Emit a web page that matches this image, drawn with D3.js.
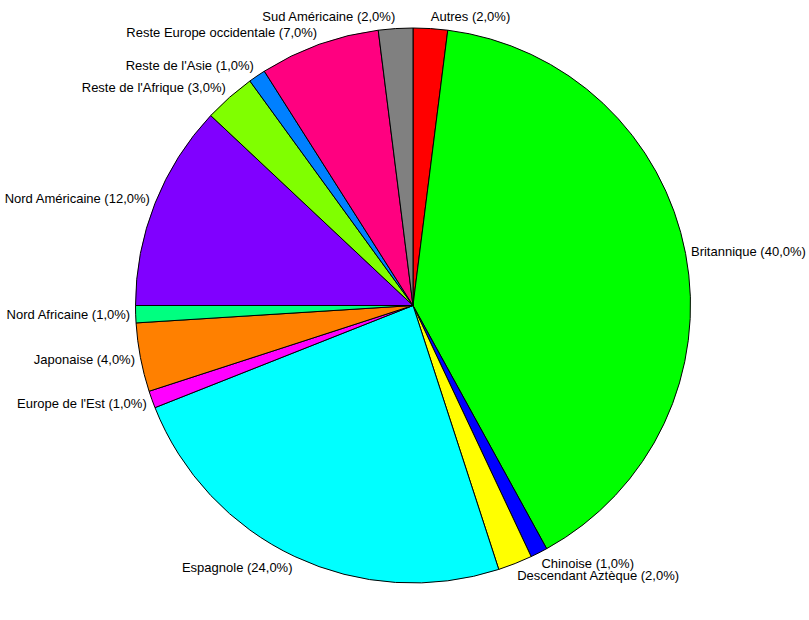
<!DOCTYPE html>
<html><head><meta charset="utf-8">
<script src="https://cdn.jsdelivr.net/npm/d3@7"></script>
<style>body{margin:0;background:#fff}svg{display:block}</style>
</head><body>
<script>
const categories = ["Autres","Britannique","Chinoise","Descendant Aztèque","Espagnole","Europe de l'Est","Japonaise","Nord Africaine","Nord Américaine","Reste de l'Afrique","Reste de l'Asie","Reste Europe occidentale","Sud Américaine"];
const values = [2,40,1,2,24,1,4,1,12,3,1,7,2];
const colors = ["#FF0000","#00FF00","#0000FF","#FFFF00","#00FFFF","#FF00FF","#FF8000","#00FF80","#8000FF","#80FF00","#0080FF","#FF0080","#808080"];

const W=809,H=620,cx=413,cy=305.5,R=277.5,RL=283;
const svg=d3.select("body").append("svg").attr("width",W).attr("height",H);
const total=d3.sum(values);
const pie=d3.pie().sort(null).value(d=>d.v);
const data=pie(categories.map((c,i)=>({c,v:values[i],col:colors[i]})));
const arc=d3.arc().innerRadius(0).outerRadius(R);
const g=svg.append("g").attr("transform",`translate(${cx},${cy})`);
g.selectAll("path").data(data).join("path").attr("d",arc)
  .attr("fill",d=>d.data.col).attr("stroke","#000").attr("stroke-width",1);
const fmt=v=>(v/total*100).toFixed(1).replace(".",",")+"%";
g.selectAll("text").data(data).join("text")
  .each(function(d){
    const a=(d.startAngle+d.endAngle)/2;
    const s=Math.sin(a), c=Math.cos(a);
    d3.select(this).attr("x",RL*s).attr("y",-RL*c - c*7)
      .attr("text-anchor",s>=0?"start":"end")
      .attr("dominant-baseline","central");
  })
  .attr("font-family","Liberation Sans, Arial, sans-serif").attr("font-size",13).attr("fill","#000")
  .text(d=>`${d.data.c} (${fmt(d.data.v)})`);
</script>
</body></html>
